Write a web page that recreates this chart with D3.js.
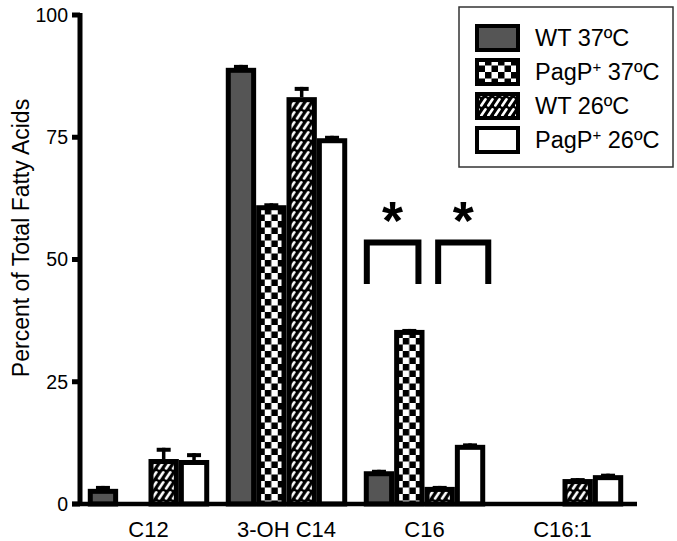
<!DOCTYPE html>
<html>
<head>
<meta charset="utf-8">
<script src="https://cdn.jsdelivr.net/npm/d3@7"></script>
<style>
  body { margin: 0; background: #fff; }
  text { font-family: "Liberation Sans", Arial, sans-serif; fill: #000; }
</style>
</head>
<body>
<script>
// data
var categories = ["C12", "3-OH C14", "C16", "C16:1"];
var seriesNames = ["WT 37ºC", "PagP+ 37ºC", "WT 26ºC", "PagP+ 26ºC"];
var wt37 = [3.1, 89.2, 6.7, 0];
var pagp37 = [0, 61.1, 35.6, 0];
var wt26 = [9.2, 83.2, 3.5, 5.1];
var pagp26 = [9.0, 74.8, 12.1, 5.9];
// error (SEM) on top of each bar
var wt37Err = [0.6, 0.6, 0.3, 0];
var pagp37Err = [0, 0.4, 0.2, 0];
var wt26Err = [2.3, 2.1, 0.2, 0.2];
var pagp26Err = [1.4, 0.5, 0.3, 0.3];
var yTicks = [0, 25, 50, 75, 100];
// significance brackets within C16
var brackets = [
  {cat: "C16", from: 0, to: 1, top: 53.5, bottom: 45},
  {cat: "C16", from: 2, to: 3, top: 53.5, bottom: 45}
];

var values = [wt37, pagp37, wt26, pagp26];
var errs = [wt37Err, pagp37Err, wt26Err, pagp26Err];
var fills = ["#555555", "url(#checker)", "url(#hatch)", "#ffffff"];

var W = 677, H = 541;
var svg = d3.select("body").append("svg")
    .attr("width", W)
    .attr("height", H);

// patterns
var defs = svg.append("defs");
var chk = defs.append("pattern")
    .attr("id", "checker")
    .attr("patternUnits", "userSpaceOnUse")
    .attr("width", 13).attr("height", 13);
chk.append("rect").attr("width", 13).attr("height", 13).attr("fill", "#fff");
chk.append("rect").attr("width", 6.5).attr("height", 6.5).attr("fill", "#000");
chk.append("rect").attr("x", 6.5).attr("y", 6.5).attr("width", 6.5).attr("height", 6.5).attr("fill", "#000");

var hatch = defs.append("pattern")
    .attr("id", "hatch")
    .attr("patternUnits", "userSpaceOnUse")
    .attr("width", 7).attr("height", 10);
hatch.append("rect").attr("width", 7).attr("height", 10).attr("fill", "#000");
hatch.append("line")
    .attr("x1", 1.3).attr("y1", 8.5).attr("x2", 5.5).attr("y2", 2.3)
    .attr("stroke", "#fff").attr("stroke-width", 2.6).attr("stroke-linecap", "round");

// scales
var y = d3.scaleLinear().domain([0, 100]).range([504, 15]);
var x = d3.scaleBand().domain(categories).range([79.5, 631.5])
    .paddingInner(0.12).paddingOuter(0.06);
var xs = d3.scaleBand().domain(d3.range(4)).range([0, x.bandwidth()]);

var sw = 5; // bar outline

// bars
categories.forEach(function(cat, ci) {
  var g = svg.append("g").attr("transform", "translate(" + x(cat) + ",0)");
  values.forEach(function(vals, si) {
    var v = vals[ci];
    if (v <= 0) return;
    g.append("rect")
      .attr("x", xs(si) + sw / 2)
      .attr("y", y(v) + sw / 2)
      .attr("width", xs.bandwidth() - sw)
      .attr("height", y(0) - y(v) - sw / 2)
      .attr("fill", fills[si])
      .attr("stroke", "#000")
      .attr("stroke-width", sw);
  });
  // error bars on top
  values.forEach(function(vals, si) {
    var v = vals[ci], e = errs[si][ci];
    if (v <= 0 || e <= 0) return;
    var cx = xs(si) + xs.bandwidth() / 2;
    g.append("line")
      .attr("x1", cx).attr("x2", cx)
      .attr("y1", y(v)).attr("y2", y(v + e))
      .attr("stroke", "#000").attr("stroke-width", 3.5);
    g.append("line")
      .attr("x1", cx - 7).attr("x2", cx + 7)
      .attr("y1", y(v + e) + 2).attr("y2", y(v + e) + 2)
      .attr("stroke", "#000").attr("stroke-width", 4);
  });
});

// axes
svg.append("line")
    .attr("x1", 72).attr("x2", 637)
    .attr("y1", y(0)).attr("y2", y(0))
    .attr("stroke", "#000").attr("stroke-width", 4.5);
svg.append("line")
    .attr("x1", 80).attr("x2", 80)
    .attr("y1", y(100) - 2).attr("y2", y(0) + 2)
    .attr("stroke", "#000").attr("stroke-width", 5);

svg.selectAll(".ytick")
  .data(yTicks)
  .enter().append("line")
    .attr("x1", 72).attr("x2", 80)
    .attr("y1", function(d) { return y(d); })
    .attr("y2", function(d) { return y(d); })
    .attr("stroke", "#000").attr("stroke-width", 5);

svg.selectAll(".ylab")
  .data(yTicks)
  .enter().append("text")
    .attr("x", 68)
    .attr("y", function(d) { return y(d); })
    .attr("dy", "0.35em")
    .attr("text-anchor", "end")
    .attr("font-size", 19.5)
    .text(function(d) { return d; });

svg.selectAll(".xlab")
  .data(categories)
  .enter().append("text")
    .attr("x", function(d) { return x(d) + x.bandwidth() / 2; })
    .attr("y", 537)
    .attr("text-anchor", "middle")
    .attr("font-size", 22)
    .text(function(d) { return d; });

svg.append("text")
    .attr("transform", "translate(29," + 238 + ") rotate(-90)")
    .attr("text-anchor", "middle")
    .attr("font-size", 23)
    .text("Percent of Total Fatty Acids");

// significance brackets
brackets.forEach(function(b, i) {
  var gx = x(b.cat), bw = xs.bandwidth();
  var x1 = i === 0 ? gx + xs(b.from) + 0.1 * bw : gx + xs(b.from) + 0.45 * bw;
  var x2 = i === 0 ? gx + xs(b.to) + 0.8 * bw : gx + xs(b.to) + 1.1 * bw;
  svg.append("path")
    .attr("d", "M" + x1 + "," + y(b.bottom) + "V" + y(b.top) + "H" + x2 + "V" + y(b.bottom))
    .attr("fill", "none")
    .attr("stroke", "#000")
    .attr("stroke-width", 6);
  svg.append("text")
    .attr("x", (x1 + x2) / 2)
    .attr("y", y(b.top) - 3)
    .attr("text-anchor", "middle")
    .attr("font-size", 54)
    .attr("font-weight", "bold")
    .text("*");
});

// legend
var lg = svg.append("g").attr("transform", "translate(459,7)");
lg.append("rect")
    .attr("width", 214).attr("height", 160)
    .attr("fill", "#fff")
    .attr("stroke", "#333").attr("stroke-width", 1.5);
seriesNames.forEach(function(name, i) {
  var cy = 31 + i * 34;
  lg.append("rect")
    .attr("x", 18).attr("y", cy - 12)
    .attr("width", 41).attr("height", 24)
    .attr("fill", fills[i])
    .attr("stroke", "#000").attr("stroke-width", 4);
  var t = lg.append("text")
    .attr("x", 76).attr("y", cy)
    .attr("dy", "0.36em")
    .attr("font-size", 23.5);
  if (name.indexOf("+") >= 0) {
    var parts = name.split("+");
    t.append("tspan").text(parts[0]);
    t.append("tspan").attr("font-size", 15).attr("dy", "-0.55em").text("+");
    t.append("tspan").attr("dy", "0.35em").text(parts[1]);
  } else {
    t.text(name);
  }
});
</script>
</body>
</html>
